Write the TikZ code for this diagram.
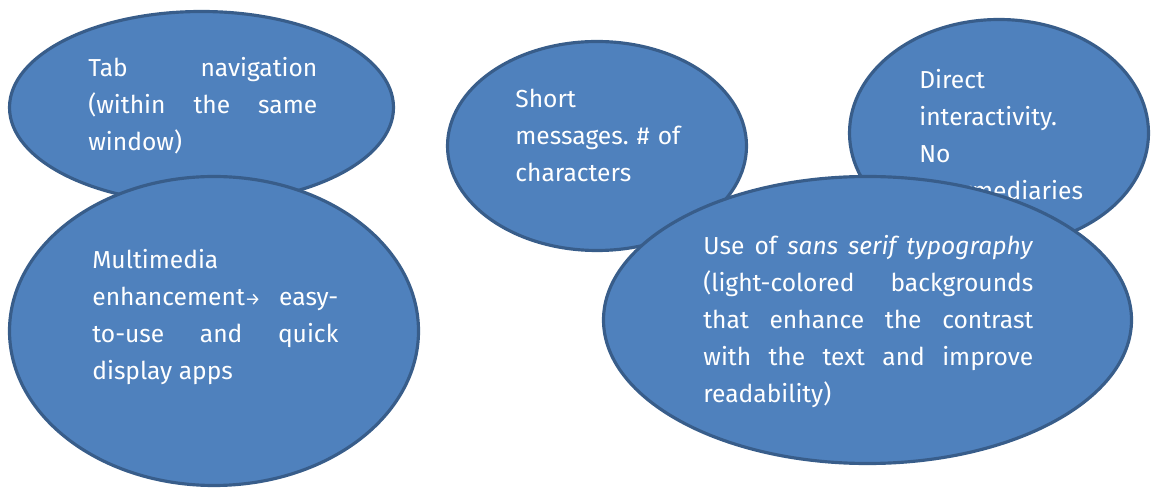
\documentclass[tikz,border=0pt]{standalone}
\usepackage{fontspec}
\setmainfont{Fira Sans}
\frenchspacing
\usetikzlibrary{shapes.geometric}
\definecolor{bubblefill}{HTML}{4F81BD}
\definecolor{bubbleline}{HTML}{385D8A}
\begin{document}
\begin{tikzpicture}[
            bubble/.style={ellipse, draw=bubbleline, fill=bubblefill, line width=1.8pt, inner sep=0pt},
            bubbletext/.style={anchor=base west, inner sep=0pt, text=white, font=\fontsize{14pt}{21pt}\selectfont}
            ]
            \useasboundingbox (0,0) rectangle (23.04,9.76);

            \node[bubble, minimum width=7.68cm, minimum height=3.84cm] (tab) at (4.03,7.61) {};
            \node[bubbletext, text width=4.58cm, align=justify] (tabtext) at (1.76,8.22)
                {Tab navigation\linebreak (within the same\linebreak window)};

            \node[bubble, minimum width=8.18cm, minimum height=6.18cm] (media) at (4.28,3.14) {};
            \node[bubbletext, text width=4.92cm, align=justify] (mediatext) at (1.84,4.38)
                {Multimedia\newline enhancement{\fontsize{10pt}{10pt}\selectfont →} easy-\linebreak to-use and quick\linebreak display apps};

            \node[bubble, minimum width=5.98cm, minimum height=4.18cm] (short) at (11.94,6.84) {};
            \node[bubbletext, text width=3.6cm, align=left] (shorttext) at (10.30,7.60)
                {Short\\ messages. \# of\\ characters};

            \node[bubble, minimum width=5.98cm, minimum height=4.54cm] (direct) at (19.98,7.10) {};
            \node[bubbletext, text width=3.6cm, align=left] (directtext) at (18.38,7.98)
                {Direct\\ interactivity.\\ No\\ intermediaries};

            % the big one sits on top of the two on the right
            \node[bubble, minimum width=10.56cm, minimum height=5.74cm] (sans) at (17.35,3.36) {};
            \node[bubbletext, text width=6.60cm, align=justify] (sanstext) at (14.06,4.66)
                {Use of \textit{sans serif typography}\linebreak (light-colored backgrounds\linebreak that enhance the contrast\linebreak with the text and improve\linebreak readability)};
            \end{tikzpicture}
\end{document}
